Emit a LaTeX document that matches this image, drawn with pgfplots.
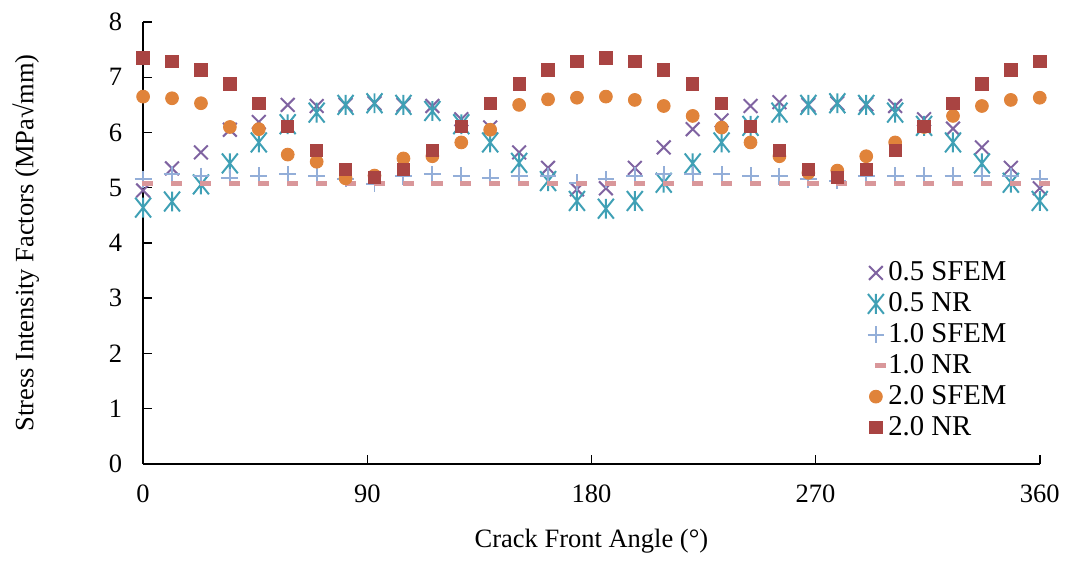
\documentclass[border=0pt]{standalone}
\usepackage{fontspec}
\setmainfont{Liberation Serif}
\usepackage{pgfplots}
\usepackage{pgfplotstable}
\pgfplotsset{compat=1.18}

\definecolor{cpurple}{HTML}{7F63A1}
\definecolor{cteal}{HTML}{3FA0B5}
\definecolor{cblue}{HTML}{93AED8}
\definecolor{cpink}{HTML}{D9979A}
\definecolor{corange}{HTML}{E0833A}
\definecolor{cred}{HTML}{A94442}

% Excel-style asterisk: an X with a vertical bar
\pgfdeclareplotmark{xstar}{%
  \pgfpathmoveto{\pgfqpoint{-0.8\pgfplotmarksize}{-\pgfplotmarksize}}%
  \pgfpathlineto{\pgfqpoint{0.8\pgfplotmarksize}{\pgfplotmarksize}}%
  \pgfpathmoveto{\pgfqpoint{-0.8\pgfplotmarksize}{\pgfplotmarksize}}%
  \pgfpathlineto{\pgfqpoint{0.8\pgfplotmarksize}{-\pgfplotmarksize}}%
  \pgfpathmoveto{\pgfqpoint{0pt}{\pgfplotmarksize}}%
  \pgfpathlineto{\pgfqpoint{0pt}{-\pgfplotmarksize}}%
  \pgfusepathqstroke}
% short horizontal bar (Excel dash marker)
\pgfdeclareplotmark{dashbar}{%
  \pgfpathrectangle{\pgfqpoint{-0.4pt}{-1.1pt}}{\pgfqpoint{5pt}{2.2pt}}%
  \pgfusepathqfill}

% angle, 0.5 SFEM, 0.5 NR, 1.0 SFEM, 1.0 NR, 2.0 SFEM, 2.0 NR
\pgfplotstableread{
ang    sa    na    sb    nb    sc    nc
0      4.95  4.64  5.15  5.08  6.65  7.35
11.61  5.35  4.75  5.24  5.08  6.62  7.29
23.23  5.64  5.06  5.21  5.08  6.53  7.13
34.84  6.05  5.44  5.18  5.08  6.10  6.88
46.45  6.19  5.82  5.22  5.08  6.06  6.53
58.06  6.50  6.15  5.24  5.08  5.60  6.11
69.68  6.48  6.36  5.22  5.08  5.47  5.68
81.29  6.50  6.50  5.16  5.08  5.17  5.33
92.90  6.53  6.53  5.07  5.08  5.22  5.19
104.52 6.50  6.50  5.21  5.08  5.53  5.33
116.13 6.48  6.39  5.24  5.08  5.57  5.68
127.74 6.24  6.15  5.22  5.08  5.82  6.11
139.35 6.09  5.82  5.18  5.08  6.05  6.53
150.97 5.64  5.45  5.22  5.08  6.50  6.88
162.58 5.36  5.12  5.21  5.08  6.60  7.13
174.19 4.97  4.76  5.09  5.08  6.63  7.29
185.81 4.99  4.62  5.15  5.08  6.65  7.35
197.42 5.36  4.76  5.22  5.08  6.59  7.29
209.03 5.73  5.09  5.24  5.08  6.48  7.13
220.65 6.06  5.44  5.24  5.08  6.30  6.88
232.26 6.22  5.82  5.24  5.08  6.09  6.53
243.87 6.48  6.12  5.22  5.08  5.82  6.11
255.48 6.55  6.36  5.21  5.08  5.57  5.68
267.10 6.50  6.50  5.15  5.08  5.27  5.33
278.71 6.53  6.53  5.13  5.08  5.31  5.19
290.32 6.51  6.50  5.21  5.08  5.57  5.33
301.94 6.48  6.36  5.22  5.08  5.82  5.68
313.55 6.24  6.12  5.22  5.08  6.10  6.11
325.16 6.07  5.82  5.22  5.08  6.30  6.53
336.77 5.73  5.44  5.22  5.08  6.48  6.88
348.39 5.36  5.09  5.21  5.08  6.59  7.13
360    4.99  4.76  5.16  5.08  6.63  7.29
}\sif

\begin{document}
\begin{tikzpicture}
\begin{axis}[
  scale only axis, width=406pt, height=200pt,
  font=\fontsize{12}{14}\selectfont,
  /pgf/number format/assume math mode=true,
  xmin=0, xmax=360, ymin=0, ymax=8,
  xtick={0,90,180,270,360}, ytick={0,1,...,8},
  axis lines*=left,
  axis line style={black, line width=0.7pt},
  tick style={black, line width=0.7pt},
  tick align=inside, major tick length=4pt,
  xticklabel style={yshift=-6pt},
  yticklabel style={xshift=-6pt},
  xlabel={Crack Front Angle (°)},
  ylabel={Stress Intensity Factors (MPa√mm)},
  every axis x label/.style={at={(axis description cs:0.5,-0.175)}, anchor=center},
  every axis y label/.style={at={(axis description cs:-0.131,0.5)}, rotate=90, anchor=center},
  legend style={at={(0.80,0.478)}, anchor=north west, draw=none, fill=none,
    font=\fontsize{13}{14}\selectfont,
    nodes={inner sep=1pt, text height=9.5pt, text depth=2.5pt}, row sep=0pt},
  legend cell align=left,
]
\addplot[only marks, mark=x, mark size=4.4pt, color=cpurple, line width=0.9pt] table[x=ang, y=sa] {\sif};
\addlegendentry{0.5 SFEM}
\addplot[only marks, mark=xstar, mark size=4.5pt, color=cteal, line width=0.9pt] table[x=ang, y=na] {\sif};
\addlegendentry{0.5 NR}
\addplot[only marks, mark=+, mark size=3.8pt, color=cblue, line width=0.9pt] table[x=ang, y=sb] {\sif};
\addlegendentry{1.0 SFEM}
\addplot[only marks, mark=dashbar, color=cpink] table[x=ang, y=nb] {\sif};
\addlegendentry{1.0 NR}
\addplot[only marks, mark=*, mark size=2.9pt, color=corange] table[x=ang, y=sc] {\sif};
\addlegendentry{2.0 SFEM}
\addplot[only marks, mark=square*, mark size=2.8pt, color=cred] table[x=ang, y=nc] {\sif};
\addlegendentry{2.0 NR}
\end{axis}
\path ([shift={(-64.8pt,-40.8pt)}]current axis.south west) rectangle ([shift={(12.2pt,10pt)}]current axis.north east);
\end{tikzpicture}
\end{document}
